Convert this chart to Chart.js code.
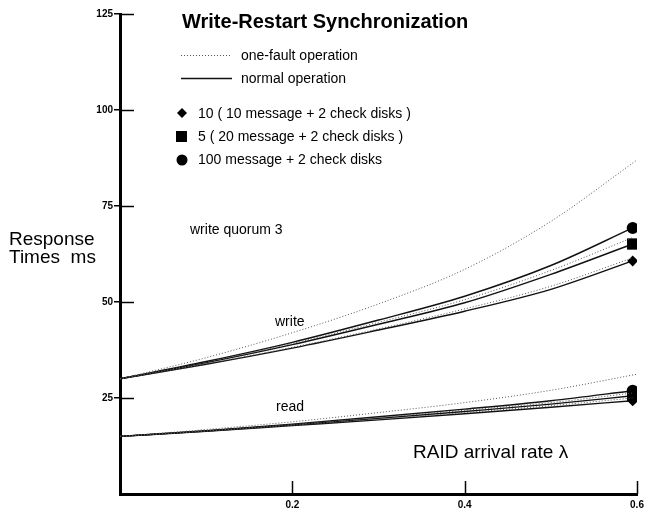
<!DOCTYPE html>
<html>
<head>
<meta charset="utf-8">
<title>Write-Restart Synchronization</title>
<script src="https://cdn.jsdelivr.net/npm/chart.js@4.4.1/dist/chart.umd.min.js"></script>
<style>
  html, body { margin: 0; padding: 0; background: #fff; }
  #wrap { width: 645px; height: 514px; }
</style>
</head>
<body>
<div id="wrap"><canvas id="rt-chart" width="645" height="514"></canvas></div>
<script>
// arrival rate (lambda) sample points
var lambdas     = [0, 0.1, 0.2, 0.3, 0.4, 0.5, 0.595];
var lambdasLong = [0, 0.1, 0.2, 0.3, 0.4, 0.5, 0.6];

// write, normal operation (solid)
var writeNormal10  = [30, 33.8, 38.0, 42.7, 47.6, 53.3, 60.7];
var writeNormal5   = [30, 34.2, 38.9, 44.2, 49.8, 57.2, 65.1];
var writeNormal100 = [30, 34.5, 39.5, 45.3, 51.5, 59.5, 69.3];
// write, one-fault operation (dotted)
var writeFault10   = [30, 33.9, 38.2, 43.0, 48.2, 54.1, 61.5];
var writeFault5    = [30, 34.3, 39.2, 44.7, 50.6, 58.2, 66.8];
var writeFault100  = [30, 35.5, 42.0, 49.5, 58.5, 71.0, 87.0];

// read, normal operation (solid)
var readNormal10  = [15, 16.3, 17.8, 19.3, 20.9, 22.6, 24.3];
var readNormal5   = [15, 16.4, 18.0, 19.7, 21.5, 23.4, 25.6];
var readNormal100 = [15, 16.5, 18.2, 20.1, 22.1, 24.3, 26.9];
// read, one-fault operation (dotted)
var readFault10   = [15, 16.35, 17.9, 19.5, 21.2, 23.0, 25.0];
var readFault5    = [15, 16.45, 18.1, 19.9, 21.8, 23.8, 26.3];
var readFault100  = [15, 16.8, 18.8, 21.2, 23.8, 27.0, 31.2];

var yTicks = [25, 50, 75, 100, 125];
var xTicks = [0.2, 0.4, 0.6];

var FONT = "'Liberation Sans', Arial, Helvetica, sans-serif";

function pts(xs, ys) {
      var out = [];
      for (var i = 0; i < ys.length; i++) out.push({x: xs[i], y: ys[i]});
      return out;
}

// marker only on the last point
function lastOnly(n, r) {
      var a = [];
      for (var i = 0; i < n; i++) a.push(i == n - 1 ? r : 0);
      return a;
}

function solid(label, ys, style, r) {
      return {
            label: label,
            data: pts(lambdas, ys),
            borderColor: "#111",
            borderWidth: 1.4,
            pointStyle: style,
            pointRadius: lastOnly(ys.length, r),
            pointBackgroundColor: "#000",
            pointBorderColor: "#000",
            pointBorderWidth: 0,
            cubicInterpolationMode: "monotone",
            fill: false
      };
}

function dotted(label, xs, ys) {
      return {
            label: label,
            data: pts(xs, ys),
            borderColor: "#555",
            borderWidth: 1,
            borderDash: [1, 2],
            pointRadius: 0,
            cubicInterpolationMode: "monotone",
            fill: false
      };
}

// text, legend and inner tick marks
var annotations = {
      id: "annotations",
      afterDraw: function(chart) {
            var c = chart.ctx;
            var area = chart.chartArea;
            var xs = chart.scales.x, ys = chart.scales.y;
            c.save();

            // inward tick marks
            c.strokeStyle = "#000";
            c.lineWidth = 1.5;
            yTicks.forEach(function(v) {
                  var py = Math.round(ys.getPixelForValue(v)) + 0.5;
                  c.beginPath(); c.moveTo(area.left, py); c.lineTo(area.left + 14, py); c.stroke();
            });
            xTicks.forEach(function(v) {
                  var px = Math.round(xs.getPixelForValue(v)) + 0.5;
                  c.beginPath(); c.moveTo(px, area.bottom); c.lineTo(px, area.bottom - 13); c.stroke();
            });

            c.fillStyle = "#000";
            c.textBaseline = "alphabetic";
            c.textAlign = "left";

            c.font = "bold 20px " + FONT;
            c.fillText("Write-Restart Synchronization", 182, 28);

            // legend
            c.lineWidth = 1;
            c.strokeStyle = "#555";
            c.setLineDash([1, 2]);
            c.beginPath(); c.moveTo(181, 55.5); c.lineTo(230, 55.5); c.stroke();
            c.setLineDash([]);
            c.strokeStyle = "#111";
            c.lineWidth = 1.3;
            c.beginPath(); c.moveTo(181, 78.5); c.lineTo(232, 78.5); c.stroke();

            c.font = "14px " + FONT;
            c.fillText("one-fault operation", 241, 60);
            c.fillText("normal operation", 241, 83);

            // diamond
            c.beginPath();
            c.moveTo(182, 108); c.lineTo(187, 113); c.lineTo(182, 118); c.lineTo(177, 113);
            c.closePath(); c.fill();
            // square
            c.fillRect(176, 131, 11, 11);
            // circle
            c.beginPath(); c.arc(182, 160, 5.5, 0, Math.PI * 2); c.fill();

            c.fillText("10 ( 10 message + 2 check disks )", 198, 118);
            c.fillText("5 ( 20 message + 2 check disks )", 198, 141);
            c.fillText("100 message + 2 check disks", 198, 164);

            c.fillText("write quorum 3", 190, 234);
            c.fillText("write", 275, 326);
            c.fillText("read", 276, 411);

            c.font = "19px " + FONT;
            c.fillText("Response", 9, 245);
            c.fillText("Times  ms", 9, 263);
            c.fillText("RAID arrival rate \u03bb", 413, 458);

            c.restore();
      }
};

var ctx = document.getElementById("rt-chart");

var rtChart = new Chart(ctx, {
      type: "line",
      data: {
            datasets: [
                  dotted("write one-fault 10", lambdas, writeFault10),
                  dotted("write one-fault 5", lambdas, writeFault5),
                  dotted("write one-fault 100", lambdasLong, writeFault100),
                  dotted("read one-fault 10", lambdas, readFault10),
                  dotted("read one-fault 5", lambdas, readFault5),
                  dotted("read one-fault 100", lambdasLong, readFault100),
                  solid("write 10", writeNormal10, "rectRot", 5.5),
                  solid("write 5", writeNormal5, "rect", 8),
                  solid("write 100", writeNormal100, "circle", 6),
                  solid("read 10", readNormal10, "rectRot", 5.5),
                  solid("read 5", readNormal5, "rect", 8),
                  solid("read 100", readNormal100, "circle", 6)
            ]
      },
      options: {
            responsive: false,
            animation: false,
            layout: { padding: { top: 14, right: 0, left: 0, bottom: 0 } },
            plugins: {
                  legend: { display: false },
                  title: { display: false },
                  tooltip: { enabled: false }
            },
            scales: {
                  x: {
                        type: "linear",
                        min: 0,
                        max: 0.6,
                        afterBuildTicks: function(scale) {
                              scale.ticks = xTicks.map(function(v) { return {value: v}; });
                        },
                        afterFit: function(scale) {
                              scale.height = 20;
                              scale.paddingRight = 8;
                        },
                        grid: { display: false, drawTicks: false },
                        border: { display: true, color: "#000", width: 3 },
                        ticks: {
                              color: "#000",
                              padding: 5,
                              maxRotation: 0,
                              font: { family: FONT, size: 10, weight: "bold" },
                              callback: function(v) { return v.toFixed(1); }
                        }
                  },
                  y: {
                        type: "linear",
                        min: 0,
                        max: 125,
                        afterBuildTicks: function(scale) {
                              scale.ticks = yTicks.map(function(v) { return {value: v}; });
                        },
                        afterFit: function(scale) { scale.width = 120; },
                        grid: {
                              display: true,
                              drawOnChartArea: false,
                              drawTicks: true,
                              tickLength: 6,
                              color: "#000",
                              lineWidth: 1.5
                        },
                        border: { display: true, color: "#000", width: 3 },
                        ticks: {
                              color: "#000",
                              padding: 1,
                              font: { family: FONT, size: 10, weight: "bold" }
                        }
                  }
            }
      },
      plugins: [annotations]
});
</script>
</body>
</html>
